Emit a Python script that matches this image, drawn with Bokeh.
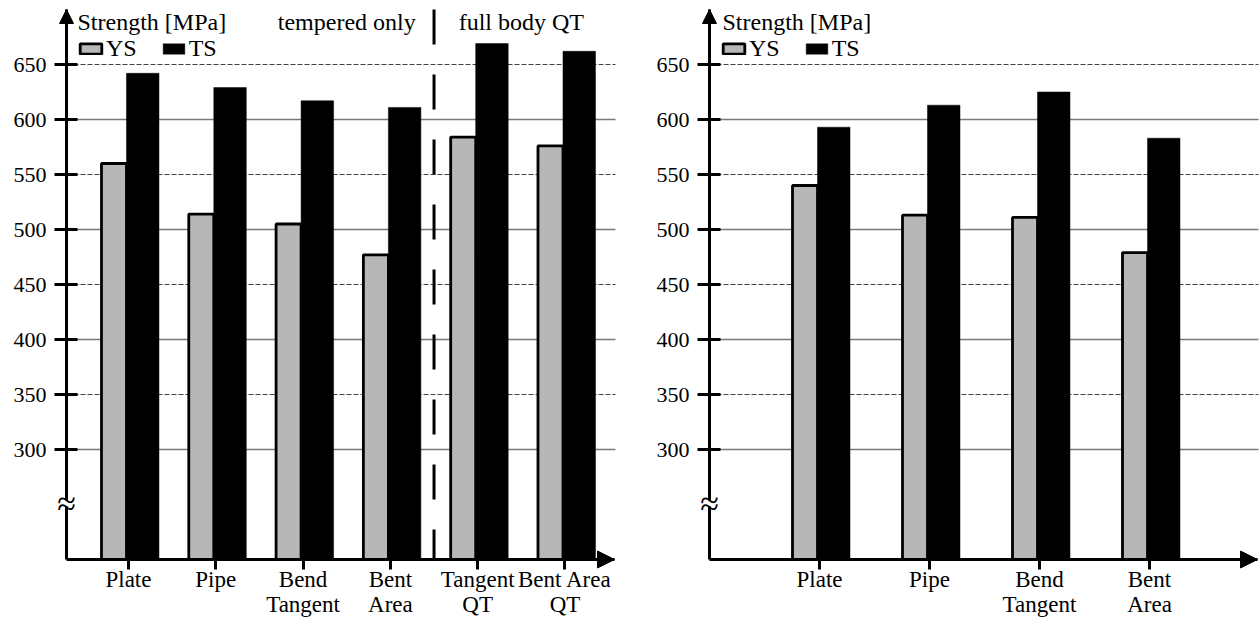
from bokeh.plotting import figure
from bokeh.models import (Range1d, FixedTicker, Legend, LegendItem, Label,
                          Arrow, NormalHead)
from bokeh.layouts import row
from bokeh.embed import file_html
from bokeh.resources import INLINE

# ---------------- data ----------------
left_categories = ["Plate", "Pipe", "Bend\nTangent", "Bent\nArea", "Tangent\nQT", "Bent Area\nQT"]
left_ys = [560, 514, 505, 477, 584, 576]
left_ts = [642, 629, 617, 611, 669, 662]

right_categories = ["Plate", "Pipe", "Bend\nTangent", "Bent\nArea"]
right_ys = [540, 513, 511, 479]
right_ts = [593, 613, 625, 583]

y_ticks = [300, 350, 400, 450, 500, 550, 600, 650]
solid_grid = [300, 400, 500, 600]
dashed_grid = [350, 450, 550, 650]
series_names = ["YS", "TS"]
y_axis_title = "Strength [MPa]"
region_titles = ["tempered only", "full body QT"]
y_bottom, y_top = 200, 700

FONT = "Liberation Serif"
AXIS_FONT = "'Liberation Serif', 'Times New Roman', serif"
YS_COLOR = "#b7b7b7"
H = 620          # figure height in px
AXIS_Y_PX = 559  # px of the x axis line from top
PPM = 1.1        # px per MPa


def make_panel(categories, ys, ts, fig_w, axis_px, ppu, axis_x, tip_px,
               title_dx, legend_x, divider=None):
    pos = [i + 1 for i in range(len(categories))]
    x_start = axis_x - axis_px / ppu
    x_end = axis_x + (fig_w - axis_px) / ppu
    x_tip = axis_x + (tip_px - axis_px) / ppu
    y_start = y_bottom - (H - AXIS_Y_PX) / PPM
    y_end = y_bottom + AXIS_Y_PX / PPM

    p = figure(width=fig_w, height=H,
               x_range=Range1d(x_start, x_end), y_range=Range1d(y_start, y_end),
               output_backend="svg", toolbar_location=None, min_border=0)
    p.outline_line_alpha = 0
    p.xgrid.visible = False
    p.ygrid.visible = False

    # grid lines between the axes
    gx1 = x_tip + 1 / ppu
    p.segment(x0=[axis_x] * len(solid_grid), y0=solid_grid,
              x1=[gx1] * len(solid_grid), y1=solid_grid,
              line_color="#7a7a7a", line_width=1.6)
    p.segment(x0=[axis_x] * len(dashed_grid), y0=dashed_grid,
              x1=[gx1] * len(dashed_grid), y1=dashed_grid,
              line_color="#444444", line_width=1.1, line_dash="5 2")

    # bars
    ys_x = [x - 14.5 / ppu for x in pos]
    ts_x = [x + 14.25 / ppu for x in pos]
    r_ys = p.vbar(x=ys_x, top=ys, bottom=y_bottom, width=25 / ppu,
                  fill_color=YS_COLOR, line_color="black", line_width=2.8)
    r_ts = p.vbar(x=ts_x, top=ts, bottom=y_bottom, width=32.5 / ppu,
                  fill_color="black", line_color="black", line_width=0.5)

    if divider is not None:
        p.segment(x0=[divider], y0=[y_top], x1=[divider], y1=[y_bottom],
                  line_color="black", line_width=3, line_dash="35 30")

    # axes placed inside the frame
    ya = p.yaxis[0]
    ya.fixed_location = axis_x
    ya.bounds = (y_bottom, y_top)
    ya.ticker = FixedTicker(ticks=y_ticks)
    ya.axis_line_width = 3
    ya.major_tick_line_width = 3
    ya.major_tick_in = 11
    ya.major_tick_out = 12
    ya.minor_tick_line_alpha = 0
    ya.major_label_text_font = AXIS_FONT
    ya.major_label_text_font_size = "22px"
    ya.major_label_text_color = "black"
    ya.major_label_standoff = 8

    xa = p.xaxis[0]
    xa.fixed_location = y_bottom
    xa.bounds = (axis_x, x_tip)
    xa.ticker = FixedTicker(ticks=pos)
    xa.major_label_overrides = {x: c for x, c in zip(pos, categories)}
    xa.axis_line_width = 3
    xa.major_tick_line_width = 3
    xa.major_tick_in = 0
    xa.major_tick_out = 10
    xa.minor_tick_line_alpha = 0
    xa.major_label_text_font = AXIS_FONT
    xa.major_label_text_font_size = "23px"
    xa.major_label_text_color = "black"
    xa.major_label_text_line_height = 1.0
    xa.major_label_standoff = -3

    # axis arrows
    p.add_layout(Arrow(x_start=axis_x, y_start=y_top - 10, x_end=axis_x, y_end=y_top,
                       line_width=3, line_color="black", level="overlay",
                       end=NormalHead(size=14, fill_color="black", line_color="black",
                                      line_width=1)))
    p.add_layout(Arrow(x_start=x_tip - 14 / ppu, y_start=y_bottom, x_end=x_tip, y_end=y_bottom,
                       line_width=3, line_color="black", level="overlay",
                       end=NormalHead(size=17, fill_color="black", line_color="black",
                                      line_width=1)))

    # axis break mark
    p.rect(x=[axis_x], y=[251], width=8, height=6, width_units="screen",
           height_units="screen", fill_color="white", line_alpha=0, level="overlay")
    p.add_layout(Label(x=axis_x, y=251, text="\u2248", text_align="center",
                       text_baseline="middle", text_font=FONT, text_font_size="34px",
                       text_color="black", level="overlay"))

    # axis title
    p.add_layout(Label(x=axis_x + title_dx / ppu, y=689, text=y_axis_title,
                       text_align="left", text_baseline="middle",
                       text_font=FONT, text_font_size="24px", text_color="black"))

    if divider is not None:
        p.add_layout(Label(x=divider - 1, y=689, text=region_titles[0],
                           text_align="center", text_baseline="middle",
                           text_font=FONT, text_font_size="24px", text_color="black"))
        p.add_layout(Label(x=divider + 1, y=689, text=region_titles[1],
                           text_align="center", text_baseline="middle",
                           text_font=FONT, text_font_size="24px", text_color="black"))

    legend = Legend(items=[LegendItem(label=series_names[0], renderers=[r_ys]),
                           LegendItem(label=series_names[1], renderers=[r_ts])],
                    orientation="horizontal", location=(legend_x, 558),
                    glyph_width=27, glyph_height=13, label_standoff=2,
                    spacing=23, padding=0, margin=0,
                    border_line_alpha=0, background_fill_alpha=0,
                    label_text_font=FONT, label_text_font_size="24px",
                    label_text_color="black")
    p.add_layout(legend)
    return p


p1 = make_panel(left_categories, left_ys, left_ts, fig_w=638, axis_px=66, ppu=87.3,
                axis_x=0.29, tip_px=614, title_dx=11, legend_x=77, divider=4.5)
p2 = make_panel(right_categories, right_ys, right_ts, fig_w=621, axis_px=71, ppu=110.0,
                axis_x=0.0, tip_px=619, title_dx=13, legend_x=82)

layout = row(p1, p2)
open("out.html", "w").write(file_html(layout, INLINE))
